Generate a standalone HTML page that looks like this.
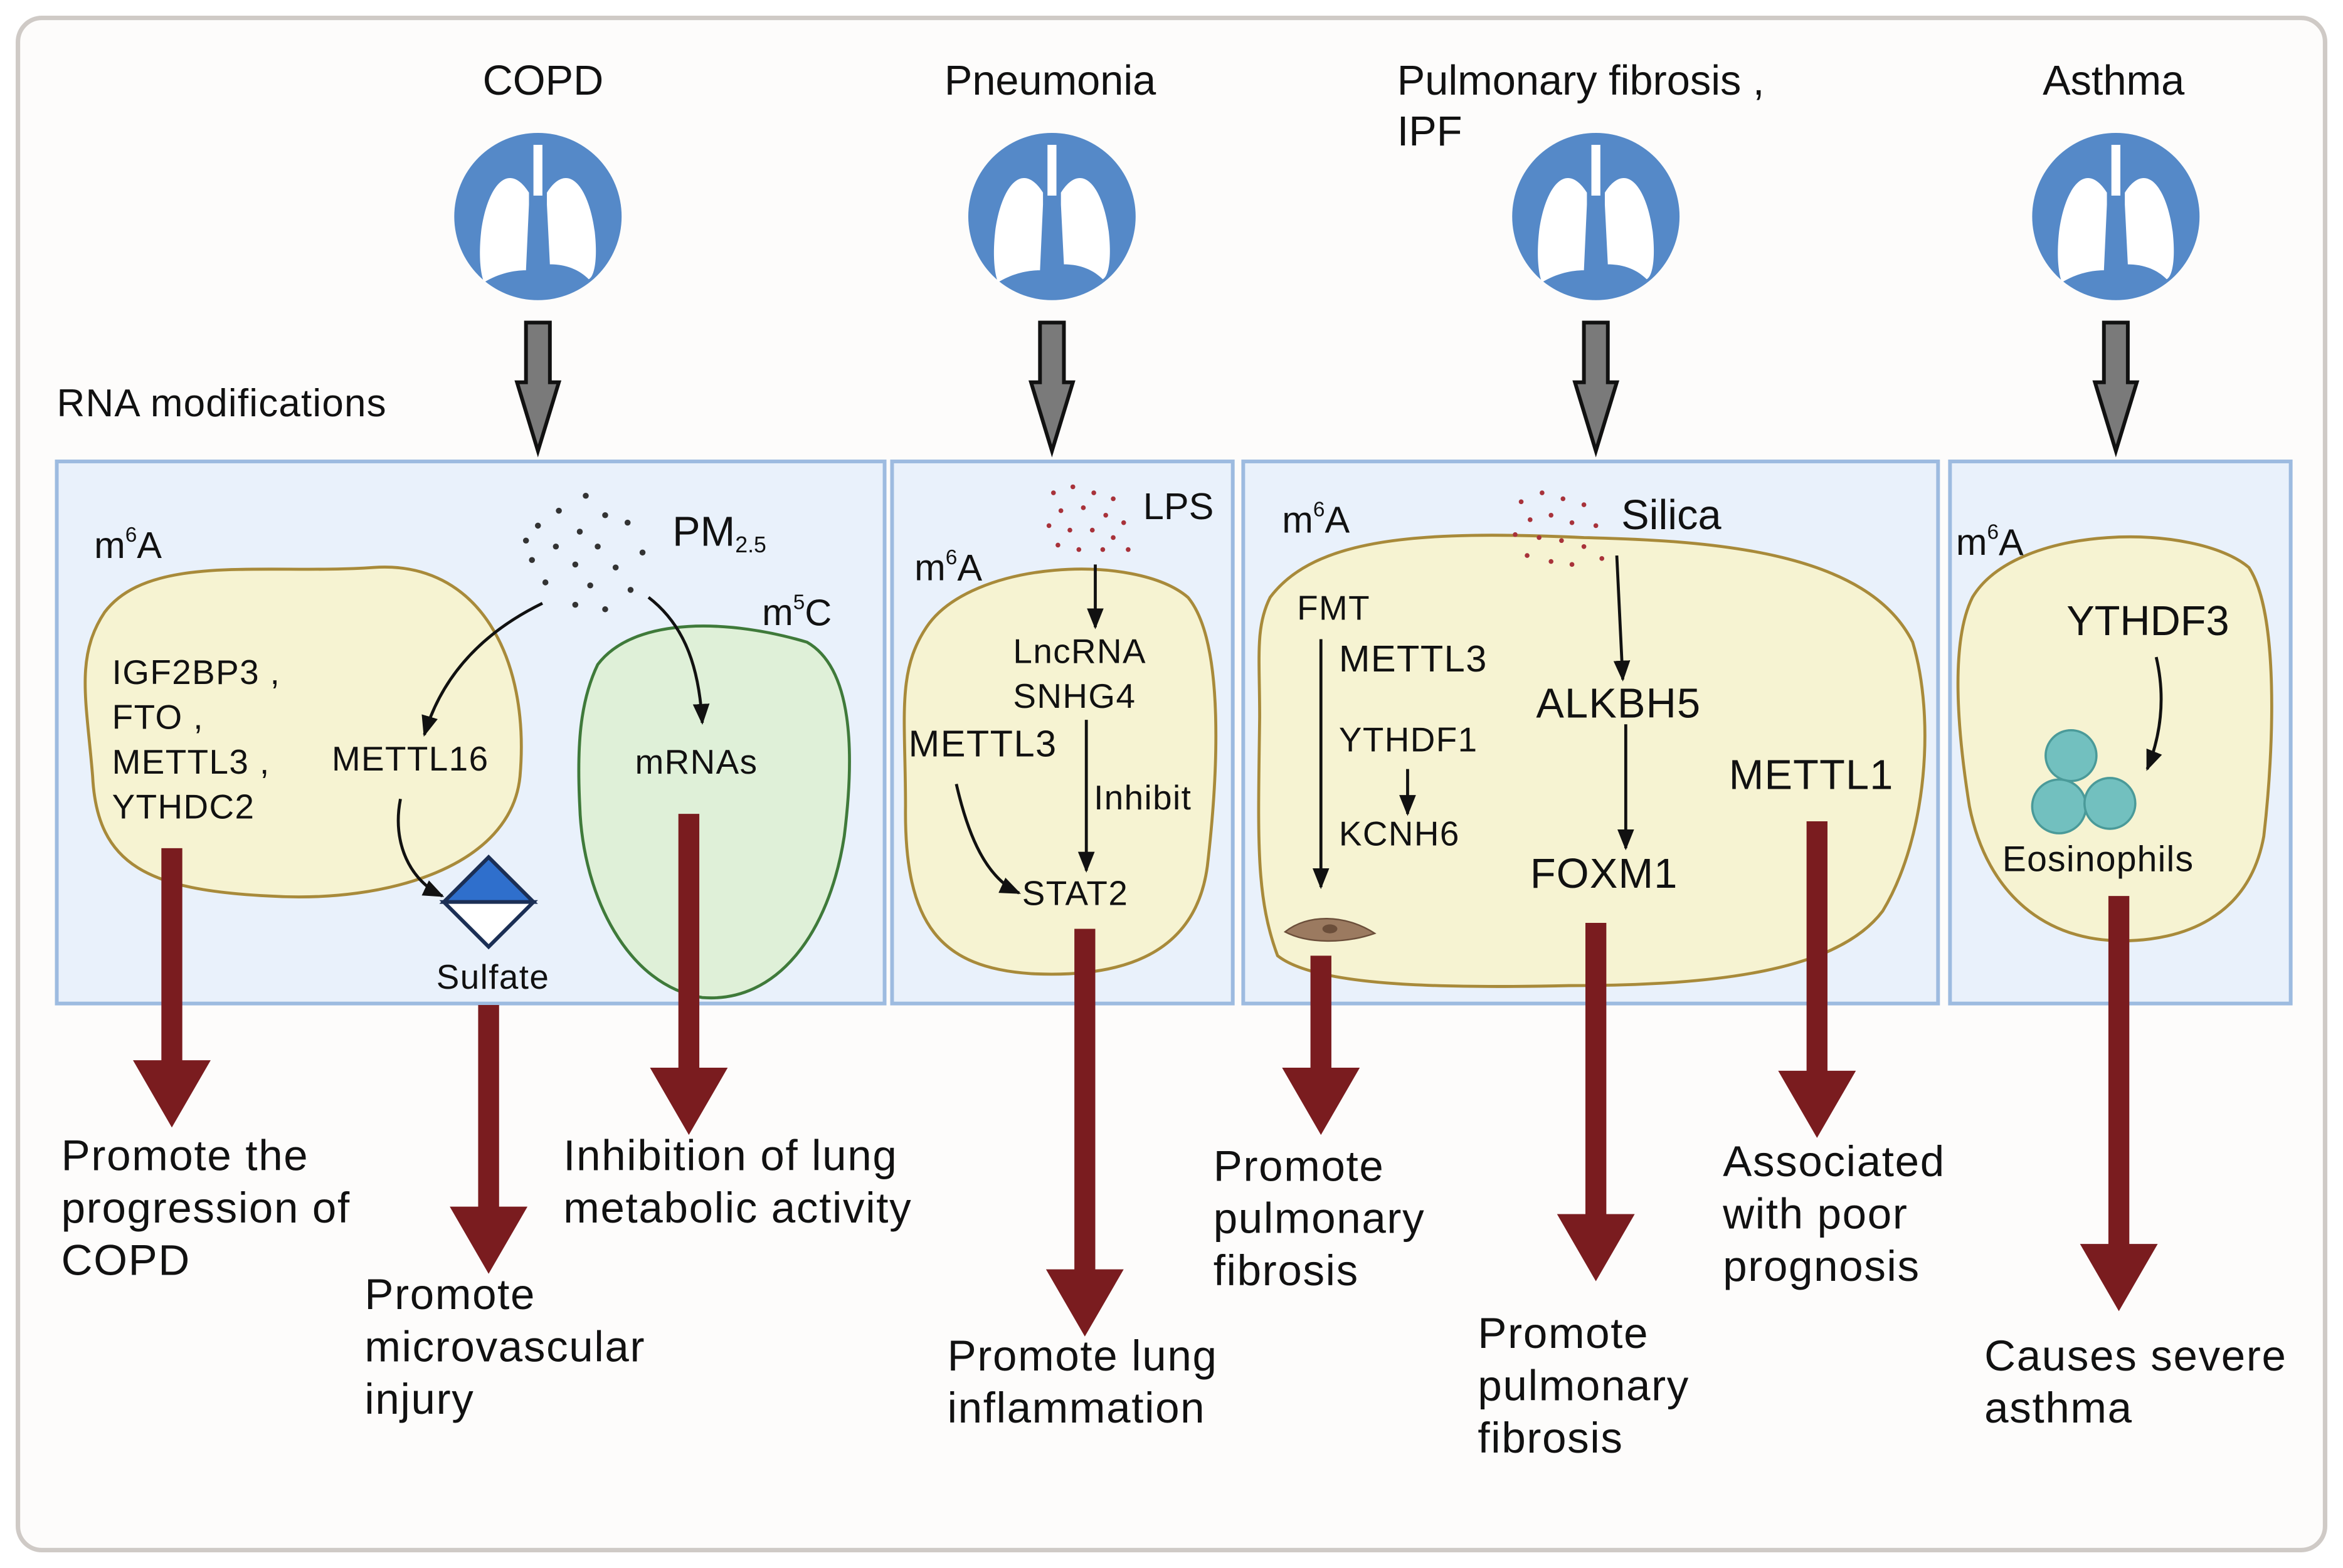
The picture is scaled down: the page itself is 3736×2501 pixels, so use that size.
<!DOCTYPE html>
<html><head><meta charset="utf-8"><style>
html,body{margin:0;padding:0;background:#fff;}
svg{display:block;}
text{font-family:"Liberation Sans",sans-serif;fill:#111;dominant-baseline:middle;}
</style></head><body>
<svg width="3736" height="2501" viewBox="0 0 1568 1050" preserveAspectRatio="none" xmlns="http://www.w3.org/2000/svg">
<defs>
<marker id="ah" viewBox="0 0 10 10" refX="9" refY="5" markerWidth="7" markerHeight="7" orient="auto"><path d="M0,1 L10,5 L0,9 z" fill="#111"/></marker>
<g id="lung">
<circle r="56" fill="#5589c8"/>
<path d="M-3,-48 h6 v34 h-6z" fill="#fff"/>
<path d="M-6,-16 C-20,-38 -34,-20 -38,10 C-40,28 -38,40 -36,44 C-26,38 -16,36 -8,36 L-6,-8 z" fill="#fff"/>
<path d="M6,-16 C20,-38 34,-20 38,10 C40,28 38,40 34,42 C26,34 16,32 8,32 L6,-8 z" fill="#fff"/>
</g>
<g id="garrow"><path d="M-8,0 h16 v40 h6 l-14,46 l-14,-46 h6z" fill="#7a7a7a" stroke="#111" stroke-width="2.5"/></g>
</defs>
<rect width="1568" height="1050" fill="#fff"/>
<rect x="12" y="12" width="1544" height="1026" rx="16" fill="#fdfcfb" stroke="#cfcac6" stroke-width="3"/>

<g font-size="28">
<text x="323" y="56">COPD</text>
<text x="632" y="56">Pneumonia</text>
<text x="935" y="56">Pulmonary fibrosis ,</text>
<text x="935" y="90">IPF</text>
<text x="1367" y="56">Asthma</text>
</g>
<use href="#lung" x="360" y="145"/>
<use href="#lung" x="704" y="145"/>
<use href="#lung" x="1068" y="145"/>
<use href="#lung" x="1416" y="145"/>
<use href="#garrow" x="360" y="216"/>
<use href="#garrow" x="704" y="216"/>
<use href="#garrow" x="1068" y="216"/>
<use href="#garrow" x="1416" y="216"/>
<text x="38" y="272" font-size="26" letter-spacing="0.5">RNA modifications</text>

<g fill="#e9f1fb" stroke="#9dbbe0" stroke-width="2.5">
<rect x="38" y="309" width="554" height="363"/>
<rect x="597" y="309" width="228" height="363"/>
<rect x="832" y="309" width="465" height="363"/>
<rect x="1305" y="309" width="228" height="363"/>
</g>

<!-- Panel 1 -->
<path d="M70,410 C100,370 180,385 250,380 C320,375 355,440 348,520 C342,580 260,605 180,600 C100,596 65,580 62,520 C58,470 50,440 70,410z" fill="#f6f3d2" stroke="#a88a3a" stroke-width="2"/>
<path d="M400,445 C425,412 490,415 540,430 C575,450 570,520 565,560 C555,625 520,672 470,668 C420,660 390,600 388,540 C386,500 388,470 400,445z" fill="#dff0d8" stroke="#3f7a3a" stroke-width="2"/>
<text x="63" y="367" font-size="25">m<tspan font-size="14" dy="-8">6</tspan><tspan dy="8">A</tspan></text>
<text x="510" y="412" font-size="25">m<tspan font-size="14" dy="-8">5</tspan><tspan dy="8">C</tspan></text>
<g font-size="23" letter-spacing="0.6">
<text x="75" y="452">IGF2BP3 ,</text><text x="75" y="482">FTO ,</text><text x="75" y="512">METTL3 ,</text><text x="75" y="542">YTHDC2</text>
<text x="222" y="510">METTL16</text>
<text x="425" y="512">mRNAs</text>
<text x="292" y="656">Sulfate</text>
</g>
<g fill="#333">
<circle cx="392" cy="332" r="2"/><circle cx="374" cy="342" r="2"/><circle cx="405" cy="345" r="2"/><circle cx="360" cy="352" r="2"/><circle cx="388" cy="356" r="2"/><circle cx="420" cy="350" r="2"/><circle cx="372" cy="366" r="2"/><circle cx="400" cy="366" r="2"/><circle cx="356" cy="375" r="2"/><circle cx="385" cy="378" r="2"/><circle cx="412" cy="380" r="2"/><circle cx="430" cy="370" r="2"/><circle cx="365" cy="390" r="2"/><circle cx="395" cy="392" r="2"/><circle cx="422" cy="395" r="2"/><circle cx="385" cy="405" r="2"/><circle cx="405" cy="408" r="2"/><circle cx="352" cy="362" r="2"/>
</g>
<text x="450" y="358" font-size="28">PM<tspan font-size="15" dy="8">2.5</tspan></text>
<g fill="none" stroke="#111" stroke-width="2" marker-end="url(#ah)">
<path d="M363,404 C320,425 295,455 284,492"/>
<path d="M434,400 C460,420 468,450 470,484"/>
<path d="M268,535 C262,565 275,590 296,600"/>
</g>
<path d="M297,604 L327,574 L357,604z" fill="#2f6fcc" stroke="#1b2f55" stroke-width="2.5"/>
<path d="M297,604 L327,634 L357,604z" fill="#fff" stroke="#1b2f55" stroke-width="2.5"/>

<!-- Panel 2 -->
<path d="M620,420 C650,375 760,370 795,400 C820,430 815,520 808,580 C800,640 750,655 690,652 C630,648 605,620 606,540 C606,480 600,450 620,420z" fill="#f6f3d2" stroke="#a88a3a" stroke-width="2"/>
<text x="612" y="382" font-size="25">m<tspan font-size="14" dy="-8">6</tspan><tspan dy="8">A</tspan></text>
<g fill="#a8323a">
<circle cx="705" cy="330" r="1.6"/><circle cx="718" cy="326" r="1.6"/><circle cx="732" cy="330" r="1.6"/><circle cx="745" cy="334" r="1.6"/><circle cx="710" cy="342" r="1.6"/><circle cx="725" cy="340" r="1.6"/><circle cx="740" cy="345" r="1.6"/><circle cx="752" cy="350" r="1.6"/><circle cx="702" cy="352" r="1.6"/><circle cx="716" cy="355" r="1.6"/><circle cx="731" cy="355" r="1.6"/><circle cx="745" cy="360" r="1.6"/><circle cx="708" cy="365" r="1.6"/><circle cx="722" cy="368" r="1.6"/><circle cx="738" cy="368" r="1.6"/><circle cx="755" cy="368" r="1.6"/>
</g>
<text x="765" y="341" font-size="25">LPS</text>
<g font-size="23" letter-spacing="0.6">
<text x="678" y="438">LncRNA</text><text x="678" y="468">SNHG4</text>
<text x="608" y="500" font-size="25">METTL3</text>
<text x="732" y="536">Inhibit</text>
<text x="684" y="600">STAT2</text>
</g>
<g fill="none" stroke="#111" stroke-width="2" marker-end="url(#ah)">
<path d="M733,378 L733,420"/>
<path d="M727,482 L727,583"/>
<path d="M640,525 C648,560 660,588 682,598"/>
</g>

<!-- Panel 3 -->
<path d="M850,400 C880,360 950,355 1060,360 C1150,362 1250,370 1280,430 C1295,480 1290,560 1260,610 C1230,650 1150,660 1050,660 C960,662 880,660 855,640 C840,600 842,560 843,480 C843,440 840,420 850,400z" fill="#f6f3d2" stroke="#a88a3a" stroke-width="2"/>
<text x="858" y="350" font-size="25">m<tspan font-size="14" dy="-8">6</tspan><tspan dy="8">A</tspan></text>
<g fill="#a8323a">
<circle cx="1018" cy="336" r="1.6"/><circle cx="1032" cy="330" r="1.6"/><circle cx="1046" cy="334" r="1.6"/><circle cx="1060" cy="338" r="1.6"/><circle cx="1024" cy="348" r="1.6"/><circle cx="1038" cy="345" r="1.6"/><circle cx="1052" cy="350" r="1.6"/><circle cx="1068" cy="352" r="1.6"/><circle cx="1014" cy="358" r="1.6"/><circle cx="1030" cy="360" r="1.6"/><circle cx="1045" cy="362" r="1.6"/><circle cx="1060" cy="366" r="1.6"/><circle cx="1022" cy="372" r="1.6"/><circle cx="1038" cy="376" r="1.6"/><circle cx="1052" cy="378" r="1.6"/><circle cx="1072" cy="374" r="1.6"/>
</g>
<text x="1085" y="347" font-size="28">Silica</text>
<g font-size="23" letter-spacing="0.6">
<text x="868" y="409">FMT</text>
<text x="896" y="443" font-size="25">METTL3</text>
<text x="896" y="497">YTHDF1</text>
<text x="896" y="560">KCNH6</text>
</g>
<g font-size="28" letter-spacing="0.5">
<text x="1028" y="473">ALKBH5</text>
<text x="1024" y="587">FOXM1</text>
<text x="1157" y="521">METTL1</text>
</g>
<g fill="none" stroke="#111" stroke-width="2" marker-end="url(#ah)">
<path d="M884,428 L884,594"/>
<path d="M942,515 L942,545"/>
<path d="M1082,372 L1086,455"/>
<path d="M1088,485 L1088,568"/>
</g>
<path d="M860,624 C875,612 900,612 920,625 C900,632 875,632 860,624z" fill="#9b7a60" stroke="#6b4e3a" stroke-width="1"/>
<ellipse cx="890" cy="622" rx="5" ry="3" fill="#6b4e3a"/>

<!-- Panel 4 -->
<path d="M1320,400 C1350,350 1470,350 1505,380 C1525,410 1522,500 1515,560 C1505,615 1460,630 1420,630 C1370,630 1330,600 1318,540 C1310,490 1305,430 1320,400z" fill="#f6f3d2" stroke="#a88a3a" stroke-width="2"/>
<text x="1309" y="365" font-size="25">m<tspan font-size="14" dy="-8">6</tspan><tspan dy="8">A</tspan></text>
<text x="1383" y="418" font-size="28">YTHDF3</text>
<path d="M1443,440 C1450,470 1445,495 1437,515" fill="none" stroke="#111" stroke-width="2" marker-end="url(#ah)"/>
<g fill="#72c0bf" stroke="#4a9a99" stroke-width="1.5">
<circle cx="1386" cy="506" r="17"/><circle cx="1378" cy="540" r="18"/><circle cx="1412" cy="538" r="17"/>
</g>
<text x="1340" y="577" font-size="24" letter-spacing="0.5">Eosinophils</text>

<!-- Red arrows -->
<g fill="#7a1c1f">
<path d="M108,568 h14 v142 h19 l-26,45 l-26,-45 h19z"/>
<path d="M320,673 h14 v135 h19 l-26,45 l-26,-45 h19z"/>
<path d="M454,545 h14 v170 h19 l-26,45 l-26,-45 h19z"/>
<path d="M719,622 h14 v228 h19 l-26,45 l-26,-45 h19z"/>
<path d="M877,640 h14 v75 h19 l-26,45 l-26,-45 h19z"/>
<path d="M1061,618 h14 v195 h19 l-26,45 l-26,-45 h19z"/>
<path d="M1209,550 h14 v167 h19 l-26,45 l-26,-45 h19z"/>
<path d="M1411,600 h14 v233 h19 l-26,45 l-26,-45 h19z"/>
</g>

<g font-size="29" letter-spacing="0.7">
<text x="41" y="776">Promote the</text><text x="41" y="811">progression of</text><text x="41" y="846">COPD</text>
<text x="244" y="869">Promote</text><text x="244" y="904">microvascular</text><text x="244" y="939">injury</text>
<text x="377" y="776">Inhibition of lung</text><text x="377" y="811">metabolic activity</text>
<text x="634" y="910">Promote lung</text><text x="634" y="945">inflammation</text>
<text x="812" y="783">Promote</text><text x="812" y="818">pulmonary</text><text x="812" y="853">fibrosis</text>
<text x="989" y="895">Promote</text><text x="989" y="930">pulmonary</text><text x="989" y="965">fibrosis</text>
<text x="1153" y="780">Associated</text><text x="1153" y="815">with poor</text><text x="1153" y="850">prognosis</text>
<text x="1328" y="910">Causes severe</text><text x="1328" y="945">asthma</text>
</g>
</svg>
</body></html>
